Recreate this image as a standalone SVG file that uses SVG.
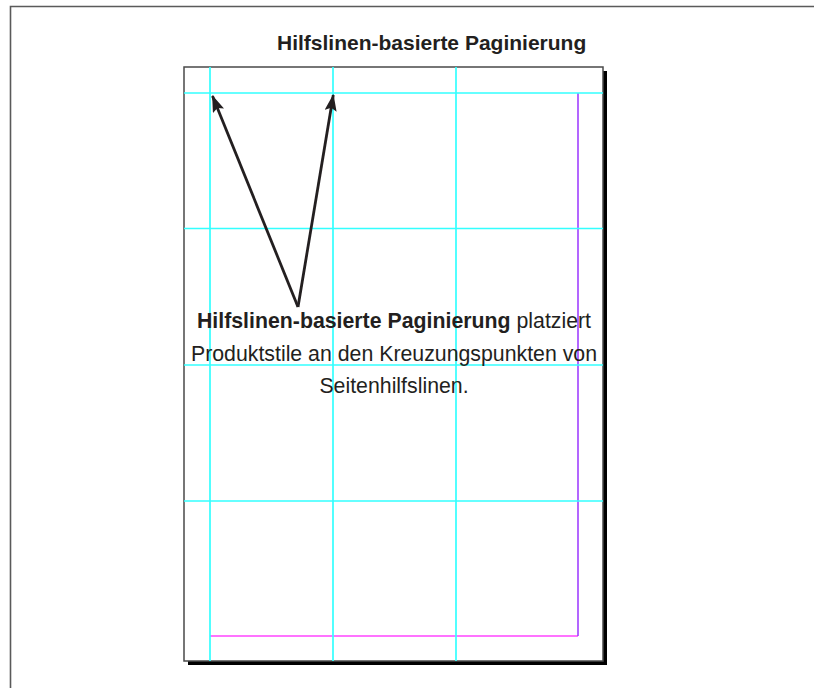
<svg xmlns="http://www.w3.org/2000/svg" width="814" height="688" viewBox="0 0 814 688">
<style>
  .t { font-family: "Liberation Sans", Arial, sans-serif; fill: #231f20; }
  .guide { stroke: #33ffff; stroke-width: 1.7; fill: none; }
  .arrow { stroke: #231f20; stroke-width: 2.8; fill: none; }
</style>
<defs>
  <marker id="head" viewBox="0 0 17 12" refX="16" refY="6" markerWidth="17" markerHeight="12" markerUnits="userSpaceOnUse" orient="auto">
    <path d="M0,0 L17,6 L0,12 L3,6 Z" fill="#231f20"/>
  </marker>
</defs>
<rect x="0" y="0" width="814" height="688" fill="#ffffff"/>
<path d="M10.5,688 V6.5 H814" fill="none" stroke="#5a5a5a" stroke-width="1.6"/>
<text class="t" x="277" y="50" font-size="21" font-weight="bold">Hilfslinen-basierte Paginierung</text>
<g id="page">
  <rect x="188" y="71" width="419" height="594" fill="#000000"/>
  <rect x="184" y="67" width="419" height="594" fill="#ffffff" stroke="#4a4a4a" stroke-width="1.5"/>
</g>
<g id="margins">
  <line x1="210" y1="636" x2="578" y2="636" stroke="#ff44ff" stroke-width="1.6"/>
  <line x1="578" y1="93" x2="578" y2="636" stroke="#a040ff" stroke-width="1.6"/>
</g>
<g id="guides">
  <line class="guide" x1="184" y1="93" x2="603" y2="93"/>
  <line class="guide" x1="184" y1="228.5" x2="603" y2="228.5"/>
  <line class="guide" x1="184" y1="365" x2="603" y2="365"/>
  <line class="guide" x1="184" y1="501" x2="603" y2="501"/>
  <line class="guide" x1="210" y1="67" x2="210" y2="661"/>
  <line class="guide" x1="333" y1="67" x2="333" y2="661"/>
  <line class="guide" x1="456" y1="67" x2="456" y2="661"/>
</g>
<g id="connectors">
  <line class="arrow" x1="298" y1="307" x2="212.5" y2="96" marker-end="url(#head)"/>
  <line class="arrow" x1="298" y1="307" x2="333.3" y2="95" marker-end="url(#head)"/>
</g>
<g id="label">
  <text class="t" x="394" y="328" font-size="21.3" text-anchor="middle"><tspan font-weight="bold">Hilfslinen-basierte Paginierung</tspan> platziert</text>
  <text class="t" x="394" y="361" font-size="21.3" text-anchor="middle">Produktstile an den Kreuzungspunkten von</text>
  <text class="t" x="394" y="393" font-size="21.3" text-anchor="middle">Seitenhilfslinen.</text>
</g>
</svg>
